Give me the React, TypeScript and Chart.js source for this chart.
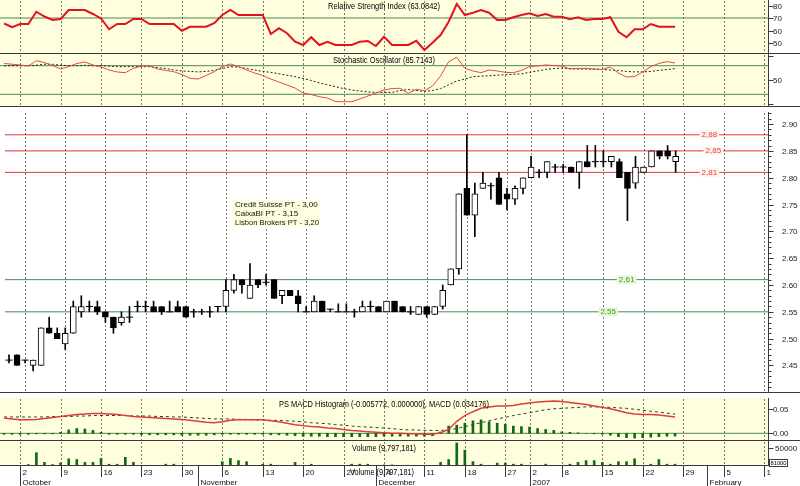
import { useEffect, useRef } from 'react';
import { Chart, registerables } from 'chart.js';

Chart.register(...registerables);

// ---------------- data ----------------
const OPEN = [
  2.46, 2.47, 2.46, 2.45, 2.45, 2.52, 2.51, 2.49, 2.51, 2.55,
  2.56, 2.56, 2.55, 2.54, 2.53, 2.54, 2.56, 2.56, 2.56, 2.56,
  2.55, 2.56, 2.56, 2.55, 2.55, 2.55, 2.56, 2.56, 2.59, 2.61,
  2.575, 2.61, 2.605, 2.61, 2.58, 2.59, 2.58, 2.55, 2.55, 2.57,
  2.555, 2.55, 2.55, 2.55, 2.55, 2.56, 2.56, 2.55, 2.57, 2.56,
  2.55, 2.545, 2.56, 2.545, 2.56, 2.6, 2.63, 2.78, 2.73, 2.78,
  2.785, 2.8, 2.77, 2.76, 2.78, 2.8, 2.81, 2.81, 2.82, 2.82,
  2.82, 2.81, 2.83, 2.83, 2.83, 2.83, 2.83, 2.81, 2.79, 2.81,
  2.82, 2.85, 2.85, 2.83,
];
const HIGH = [
  2.47, 2.47, 2.46, 2.46, 2.52, 2.54, 2.52, 2.52, 2.57, 2.58,
  2.57, 2.57, 2.55, 2.54, 2.55, 2.56, 2.57, 2.57, 2.57, 2.56,
  2.57, 2.57, 2.56, 2.555, 2.555, 2.56, 2.56, 2.61, 2.62, 2.61,
  2.64, 2.61, 2.62, 2.61, 2.59, 2.59, 2.59, 2.56, 2.58, 2.57,
  2.555, 2.565, 2.565, 2.555, 2.57, 2.57, 2.56, 2.57, 2.57, 2.56,
  2.56, 2.56, 2.56, 2.56, 2.6, 2.63, 2.77, 2.88, 2.79, 2.81,
  2.79, 2.81, 2.78, 2.785, 2.8, 2.84, 2.815, 2.83, 2.825, 2.825,
  2.82, 2.83, 2.86, 2.86, 2.85, 2.84, 2.835, 2.81, 2.84, 2.82,
  2.85, 2.85, 2.86, 2.85,
];
const LOW = [
  2.455, 2.45, 2.455, 2.44, 2.45, 2.51, 2.5, 2.48, 2.51, 2.54,
  2.55, 2.545, 2.53, 2.51, 2.525, 2.53, 2.55, 2.55, 2.55, 2.545,
  2.55, 2.55, 2.54, 2.54, 2.545, 2.54, 2.55, 2.55, 2.585, 2.585,
  2.575, 2.595, 2.6, 2.575, 2.565, 2.58, 2.55, 2.55, 2.55, 2.55,
  2.55, 2.55, 2.55, 2.54, 2.55, 2.55, 2.55, 2.55, 2.55, 2.55,
  2.545, 2.545, 2.54, 2.545, 2.555, 2.6, 2.62, 2.73, 2.69, 2.78,
  2.76, 2.75, 2.74, 2.75, 2.77, 2.8, 2.8, 2.8, 2.81, 2.81,
  2.81, 2.78, 2.82, 2.82, 2.82, 2.82, 2.8, 2.72, 2.78, 2.81,
  2.82, 2.835, 2.835, 2.81,
];
const CLOSE = [
  2.46, 2.45, 2.46, 2.46, 2.52, 2.51, 2.5, 2.51, 2.56, 2.56,
  2.56, 2.55, 2.54, 2.52, 2.54, 2.54, 2.56, 2.56, 2.55, 2.55,
  2.55, 2.55, 2.54, 2.55, 2.55, 2.55, 2.56, 2.59, 2.61, 2.6,
  2.6, 2.6, 2.605, 2.575, 2.59, 2.58, 2.565, 2.55, 2.57, 2.55,
  2.555, 2.55, 2.55, 2.55, 2.56, 2.56, 2.55, 2.57, 2.55, 2.55,
  2.55, 2.56, 2.545, 2.56, 2.59, 2.63, 2.77, 2.73, 2.77, 2.79,
  2.785, 2.75, 2.76, 2.78, 2.8, 2.82, 2.81, 2.83, 2.82, 2.82,
  2.81, 2.83, 2.82, 2.83, 2.83, 2.84, 2.8, 2.78, 2.82, 2.82,
  2.85, 2.84, 2.84, 2.84,
];
const VOLUME = [
  2000, 2000, 1500, 4000, 37000, 10000, 4000, 9000, 20000, 18000,
  10000, 10000, 21000, 5000, 5000, 24000, 10000, 2000, 2000, 1000,
  5000, 5000, 1000, 1000, 2000, 1000, 2000, 12000, 21000, 15000,
  12000, 2000, 5000, 5000, 2000, 2000, 10000, 2000, 5000, 2000,
  2000, 2000, 1000, 5000, 5000, 5000, 2000, 3000, 3000, 1000,
  2000, 2000, 2000, 2000, 10000, 18000, 64000, 44000, 12000, 5000,
  2000, 8000, 8000, 5000, 5000, 2000, 2000, 5000, 1000, 2000,
  5000, 10000, 15000, 15000, 10000, 5000, 12000, 12000, 20000, 2000,
  5000, 18000, 5000, 5000,
];
const RSI = [
  65.6, 62.6, 65.2, 65.2, 75, 71.2, 68.4, 69.2, 76.4, 76.4,
  76.4, 73.2, 69.6, 61, 65.2, 65.2, 69.2, 69.2, 65.2, 65.2,
  65.2, 65.2, 59.8, 63, 63, 63, 65.8, 72.4, 76.4, 72.4,
  72.4, 72.4, 72.4, 57.2, 61.8, 57.8, 51, 48.4, 54.6, 48.4,
  51, 48.4, 48.4, 48.4, 51, 51.6, 47.6, 55, 48.4, 48.4,
  48.4, 51.8, 44.4, 50.2, 56.4, 67, 81.2, 72.4, 74.2, 76.4,
  74.2, 68.4, 68.4, 70.6, 72.4, 73.8, 71.6, 73.2, 71, 71,
  69, 70.6, 68.4, 69.2, 69.2, 70.6, 59, 54.6, 61, 61,
  65.2, 63, 63, 63.08,
];
const STOCH_K = [
  84.6, 83, 81.5, 79.4, 90.5, 86.3, 80.4, 73, 78, 84.6,
  87.8, 81.5, 77.3, 71, 66.8, 65.3, 74.5, 79.4, 79.4, 73,
  70, 67.4, 61.5, 53.6, 52, 59.4, 67.4, 78.3, 83.6, 78,
  71, 64.7, 59.4, 52, 45.8, 39.5, 33.2, 22.7, 19.6, 15,
  12.2, 4.9, 4.5, 4.5, 10.1, 16.4, 22.7, 29, 32.2, 32.6,
  22, 30.5, 27.6, 37.4, 58.4, 88.4, 97.6, 74.5, 68.9, 65.3,
  71, 68.9, 66.2, 65.3, 70, 78, 79.4, 81.5, 80.4, 79.4,
  73, 74.1, 74.5, 73, 72, 77.3, 64.7, 56.3, 57.3, 66.8,
  78, 84.6, 88.4, 85.71,
];
const STOCH_D = [
  80, 80, 80, 80, 81, 83, 83, 81, 80, 80,
  81, 80, 80, 79, 78, 78, 78, 78, 78, 76,
  74, 71, 69, 68, 67, 68, 70, 74, 78, 77,
  74, 71, 68, 66, 63, 60, 57, 53, 49, 44,
  40, 36, 32, 29, 27, 25, 24, 24, 24, 28,
  30, 28, 26, 28, 32, 40, 48, 52, 57, 58,
  59, 60, 61, 62, 63, 66, 69, 72, 74, 75,
  74, 73, 73, 73, 72, 71, 70, 68, 67, 67,
  68, 70, 72, 74,
];
const MACD = [
  0.032, 0.03, 0.028, 0.028, 0.029, 0.031, 0.033, 0.035, 0.037, 0.039,
  0.04, 0.041, 0.041, 0.04, 0.039, 0.037, 0.035, 0.034, 0.033, 0.032,
  0.031, 0.03, 0.029, 0.027, 0.025, 0.023, 0.022, 0.024, 0.027, 0.028,
  0.028, 0.028, 0.028, 0.026, 0.024, 0.021, 0.018, 0.016, 0.014, 0.013,
  0.011, 0.01, 0.008, 0.006, 0.005, 0.003, 0.002, 0.001, 0, 0,
  -0.001, -0.001, -0.002, -0.002, 0.001, 0.008, 0.025, 0.037, 0.045, 0.052,
  0.055, 0.057, 0.057, 0.058, 0.061, 0.063, 0.065, 0.066, 0.067, 0.066,
  0.064, 0.062, 0.06, 0.057, 0.054, 0.051, 0.047, 0.043, 0.04, 0.039,
  0.039, 0.038, 0.036, 0.034176,
];
const MACD_SIGNAL = [
  0.034, 0.034, 0.034, 0.034, 0.034, 0.034, 0.035, 0.035, 0.035, 0.036,
  0.036, 0.037, 0.037, 0.037, 0.037, 0.037, 0.036, 0.036, 0.036, 0.035,
  0.035, 0.034, 0.034, 0.033, 0.032, 0.031, 0.03, 0.03, 0.03, 0.029,
  0.029, 0.028, 0.028, 0.027, 0.027, 0.026, 0.025, 0.024, 0.022, 0.021,
  0.02, 0.018, 0.017, 0.015, 0.014, 0.013, 0.012, 0.011, 0.01, 0.008,
  0.007, 0.007, 0.006, 0.006, 0.006, 0.007, 0.01, 0.014, 0.018, 0.022,
  0.026, 0.03, 0.033, 0.037, 0.04, 0.043, 0.046, 0.049, 0.051, 0.052,
  0.053, 0.054, 0.055, 0.055, 0.055, 0.054, 0.053, 0.052, 0.05, 0.048,
  0.046, 0.044, 0.042, 0.04,
];
const MACD_HIST = [
  -0.002, -0.002, -0.002, -0.002, -0.001, -0.001, -0.001, 0.002, 0.007, 0.01,
  0.009, 0.006, 0.002, -0.002, -0.002, -0.002, -0.002, -0.003, -0.003, -0.003,
  -0.003, -0.003, -0.004, -0.004, -0.004, -0.004, -0.003, -0.002, -0.002, -0.002,
  -0.002, -0.002, -0.002, -0.003, -0.003, -0.004, -0.005, -0.006, -0.006, -0.006,
  -0.007, -0.007, -0.007, -0.007, -0.007, -0.007, -0.007, -0.006, -0.006, -0.006,
  -0.006, -0.006, -0.006, -0.005, 0.003, 0.015, 0.017, 0.021, 0.026, 0.028,
  0.024, 0.021, 0.019, 0.015, 0.014, 0.013, 0.01, 0.008, 0.006, 0.003,
  0.002, 0.001, 0, -0.001, -0.002, -0.004, -0.007, -0.009, -0.01, -0.009,
  -0.008, -0.007, -0.006, -0.005772,
];

// x axis (trading-day index)
const WEEK_IDX = [2, 7, 12, 17, 22, 27, 32, 37, 42, 47, 52, 57, 62, 65, 69, 74, 79, 84, 89, 94];
const WEEK_LABELS = ['2', '9', '16', '23', '30', '6', '13', '20', '27', '4', '11', '18', '27', '2', '8', '15', '22', '29', '5', '1'];
const MONTH_IDX = [2, 24, 46, 65, 87];
const MONTH_LABELS = ['October', 'November', 'December', '2007', 'February'];

// level lines
const RED_LEVELS = [2.88, 2.85, 2.81];
const RED_LEVEL_LABELS = ['2,88', '2,85', '2,81'];
const GREEN_LEVELS = [2.61, 2.55];
const GREEN_LEVEL_LABELS = ['2,61', '2,55'];
const RSI_LEVELS = [70];
const STOCH_LEVELS = [80, 20];
const MACD_LEVELS = [0];

// axis ticks
const PRICE_TICKS = [2.45, 2.5, 2.55, 2.6, 2.65, 2.7, 2.75, 2.8, 2.85, 2.9];
const PRICE_TICK_LABELS = ['2.45', '2.50', '2.55', '2.60', '2.65', '2.70', '2.75', '2.80', '2.85', '2.90'];
const RSI_TICKS = [80, 70, 60, 50];
const RSI_TICK_LABELS = ['80', '70', '60', '50'];
const STOCH_TICKS = [100, 50, 0];
const STOCH_TICK_LABELS = ['', '50', ''];
const MACD_TICKS = [0.05, 0];
const MACD_TICK_LABELS = ['0.05', '0.00'];
const VOL_TICKS = [50000];
const VOL_TICK_LABELS = ['50000'];

const NOTES = ['Credit Suisse PT - 3,00', 'CaixaBI PT - 3,15', 'Lisbon Brokers PT - 3,20'];
const TITLE_RSI = 'Relative Strength Index (63.0842)';
const TITLE_STOCH = 'Stochastic Oscillator (85.7143)';
const TITLE_MACD = 'PS MACD Histogram (-0.005772, 0.000000), MACD (0.034176)';
const TITLE_VOL = 'Volume (9,797,181)';
const VOL_BOX_LABEL = '81000';

// ---------------- style ----------------
const X_MIN = -0.5;
const X_MAX = 94.5;
const AXIS_W = 32;
const CREAM = '#ffffe0';
const FONT = '"Liberation Sans", Arial, sans-serif';
const GREEN_LINE = '#4f864f';
const RED_LINE = '#e6333c';
const SEP = '#3a3a3a';
const BAR_GREEN = '#0e6a12';
const GRID = '#777777';

function baseOptions(yMin: number, yMax: number, padBottom = 0): any {
  return {
    responsive: false,
    maintainAspectRatio: false,
    animation: false,
    events: [],
    layout: { padding: { left: 0, right: AXIS_W, top: 0, bottom: padBottom } },
    plugins: { legend: { display: false }, tooltip: { enabled: false } },
    scales: {
      x: { type: 'linear', display: false, min: X_MIN, max: X_MAX, offset: false },
      y: { type: 'linear', display: false, min: yMin, max: yMax },
    },
  };
}

function levelDataset(v: number, color: string): any {
  return {
    type: 'line',
    data: [{ x: X_MIN, y: v }, { x: X_MAX, y: v }],
    borderColor: color,
    borderWidth: 1,
    pointRadius: 0,
    order: 10,
  };
}

function series(values: number[]) {
  return values.map((v, i) => ({ x: i, y: v }));
}

// dotted weekly grid lines, placed with the chart's own x scale
function drawGrid(chart: any) {
  const ctx = chart.ctx;
  const a = chart.chartArea;
  const xs = chart.scales.x;
  ctx.save();
  ctx.fillStyle = GRID;
  for (const idx of WEEK_IDX) {
    const px = Math.round(xs.getPixelForValue(idx));
    for (let y = Math.ceil(a.top) + 1; y < a.bottom - 1; y += 4) {
      ctx.fillRect(px, y, 1, 2);
    }
  }
  ctx.restore();
}

function panelPlugin(cfg: any) {
  return {
    id: 'panel',
    beforeDraw(chart: any) {
      const ctx = chart.ctx;
      const a = chart.chartArea;
      if (cfg.bg) {
        ctx.save();
        ctx.fillStyle = cfg.bg;
        ctx.fillRect(a.left, a.top, a.right - a.left, a.bottom - a.top);
        ctx.restore();
      }
    },
    beforeDatasetsDraw(chart: any) {
      drawGrid(chart);
    },
    afterDraw(chart: any) {
      const { ctx, chartArea: a, scales, width } = chart;
      const ys = scales.y;
      ctx.save();
      ctx.setLineDash([]);
      if (cfg.extra) cfg.extra(chart);
      if (cfg.title) {
        ctx.font = `9px ${FONT}`;
        ctx.fillStyle = '#000';
        ctx.textAlign = 'center';
        ctx.textBaseline = 'middle';
        ctx.fillText(cfg.title, (a.left + a.right) / 2, cfg.titleY, cfg.titleW);
      }
      const ax = Math.round(a.right) + 0.5;
      ctx.strokeStyle = SEP;
      ctx.lineWidth = 1;
      ctx.beginPath();
      ctx.moveTo(ax, a.top);
      ctx.lineTo(ax, a.bottom);
      ctx.stroke();
      (cfg.minor || []).forEach((v: number) => {
        const py = Math.round(ys.getPixelForValue(v)) + 0.5;
        if (py < a.top || py > a.bottom) return;
        ctx.beginPath();
        ctx.moveTo(ax, py);
        ctx.lineTo(ax + 3, py);
        ctx.stroke();
      });
      ctx.font = `8px ${FONT}`;
      ctx.fillStyle = '#222';
      ctx.textAlign = 'left';
      ctx.textBaseline = 'middle';
      cfg.ticks.forEach((v: number, k: number) => {
        const py = Math.round(ys.getPixelForValue(v)) + 0.5;
        ctx.beginPath();
        ctx.moveTo(ax, py);
        ctx.lineTo(ax + 5, py);
        ctx.stroke();
        const lab = cfg.tickLabels[k];
        if (lab) ctx.fillText(lab, cfg.labelX, py);
      });
      if (cfg.bottomLine !== false) {
        const by = Math.round(a.bottom) - 0.5;
        ctx.beginPath();
        ctx.moveTo(0, by);
        ctx.lineTo(cfg.bottomLineEnd ?? width, by);
        ctx.stroke();
      }
      ctx.restore();
    },
  };
}

function drawLevelLabel(ctx: any, text: string, cx: number, cy: number, color: string, bg: string) {
  ctx.font = `8px ${FONT}`;
  const w = ctx.measureText(text).width;
  ctx.fillStyle = bg;
  ctx.fillRect(cx - w / 2 - 2, cy - 4.5, w + 4, 9);
  ctx.fillStyle = color;
  ctx.textAlign = 'center';
  ctx.textBaseline = 'middle';
  ctx.fillText(text, cx, cy);
}

function priceExtra(chart: any) {
  const { ctx, scales } = chart;
  const xs = scales.x;
  const ys = scales.y;
  const redPos = [87.2, 87.7, 87.2];
  RED_LEVELS.forEach((v, k) => {
    drawLevelLabel(ctx, RED_LEVEL_LABELS[k], xs.getPixelForValue(redPos[k]), ys.getPixelForValue(v), '#e2452a', '#fff3f0');
  });
  const greenPos = [76.9, 74.6];
  GREEN_LEVELS.forEach((v, k) => {
    drawLevelLabel(ctx, GREEN_LEVEL_LABELS[k], xs.getPixelForValue(greenPos[k]), ys.getPixelForValue(v), '#3c9a1c', '#e8f7da');
  });
  // notes box
  ctx.fillStyle = '#ffffe0';
  ctx.fillRect(232, 93, 88, 27);
  ctx.fillStyle = '#111';
  ctx.font = `8px ${FONT}`;
  ctx.textAlign = 'left';
  ctx.textBaseline = 'middle';
  NOTES.forEach((t, k) => ctx.fillText(t, 235, 98 + k * 8.7, 84));
}

function axisRowExtra(chart: any) {
  const { ctx, chartArea: a, scales } = chart;
  const base = Math.round(a.bottom);
  ctx.strokeStyle = SEP;
  ctx.lineWidth = 1;
  ctx.fillStyle = '#111';
  ctx.font = `8px ${FONT}`;
  ctx.textAlign = 'left';
  ctx.textBaseline = 'middle';
  WEEK_IDX.forEach((idx, k) => {
    const px = Math.round(scales.x.getPixelForValue(idx)) + 0.5;
    ctx.beginPath();
    ctx.moveTo(px, base);
    ctx.lineTo(px, base + 11);
    ctx.stroke();
    ctx.fillText(WEEK_LABELS[k], px + 2, base + 6.5);
  });
  MONTH_IDX.forEach((idx, k) => {
    const px = Math.round(scales.x.getPixelForValue(idx)) + 0.5;
    ctx.beginPath();
    ctx.moveTo(px, base);
    ctx.lineTo(px, base + 20);
    ctx.stroke();
    ctx.fillText(MONTH_LABELS[k], px + 2, base + 16.5);
  });
  ctx.textAlign = 'center';
  ctx.font = `9px ${FONT}`;
  ctx.fillStyle = '#000';
  ctx.fillText(TITLE_VOL, 382, base + 6.5, 64);
  // boxed value at right
  ctx.fillStyle = '#fff';
  ctx.fillRect(769.5, base - 6.5, 18, 7);
  ctx.strokeRect(769.5, base - 6.5, 18, 7);
  ctx.fillStyle = '#000';
  ctx.font = `6px ${FONT}`;
  ctx.fillText(VOL_BOX_LABEL, 778.5, base - 3, 16);
}

function rsiConfig(): any {
  return {
    type: 'line',
    data: {
      datasets: [
        ...RSI_LEVELS.map((v) => levelDataset(v, GREEN_LINE)),
        { data: series(RSI), borderColor: '#e3121b', borderWidth: 2, pointRadius: 0, tension: 0, order: 1 },
      ],
    },
    options: baseOptions(41.2, 84.4),
    plugins: [panelPlugin({ bg: CREAM, title: TITLE_RSI, titleY: 7, titleW: 112, ticks: RSI_TICKS, tickLabels: RSI_TICK_LABELS, labelX: 773 })],
  };
}

function stochConfig(): any {
  return {
    type: 'line',
    data: {
      datasets: [
        ...STOCH_LEVELS.map((v) => levelDataset(v, GREEN_LINE)),
        { data: series(STOCH_D), borderColor: '#222', borderWidth: 1, borderDash: [2, 2], pointRadius: 0, order: 2 },
        { data: series(STOCH_K), borderColor: '#e64848', borderWidth: 1, pointRadius: 0, order: 1 },
      ],
    },
    options: baseOptions(-6.6, 104.5),
    plugins: [panelPlugin({ bg: CREAM, title: TITLE_STOCH, titleY: 7, titleW: 102, ticks: STOCH_TICKS, tickLabels: STOCH_TICK_LABELS, labelX: 773 })],
  };
}

function priceConfig(): any {
  const idx = OPEN.map((_, i) => i);
  const bodies = idx.filter((i) => OPEN[i] !== CLOSE[i]).map((i) => ({ x: i, y: [OPEN[i], CLOSE[i]] }));
  const dojis = idx.filter((i) => OPEN[i] === CLOSE[i]).map((i) => ({ x: i, y: OPEN[i] }));
  const wicks = idx.map((i) => ({ x: i, y: [LOW[i], HIGH[i]] }));
  const minor: number[] = [];
  for (let k = 240; k <= 292; k++) minor.push(k / 100);
  return {
    type: 'bar',
    data: {
      datasets: [
        ...RED_LEVELS.map((v) => levelDataset(v, RED_LINE)),
        ...GREEN_LEVELS.map((v) => levelDataset(v, GREEN_LINE)),
        { type: 'bar', data: wicks, backgroundColor: '#000', borderWidth: 0, barThickness: 1, grouped: false, order: 3 },
        {
          type: 'bar',
          data: bodies,
          backgroundColor: (c: any) => (c.raw && c.raw.y[1] > c.raw.y[0] ? '#ffffff' : '#000000'),
          borderColor: '#000',
          borderWidth: 1,
          borderSkipped: false,
          barThickness: 6,
          grouped: false,
          order: 2,
        },
        {
          type: 'line',
          data: dojis,
          showLine: false,
          pointStyle: 'line',
          pointRadius: 3.5,
          pointBorderColor: '#000',
          pointBorderWidth: 1,
          order: 1,
        },
      ],
    },
    options: baseOptions(2.3987, 2.9225),
    plugins: [panelPlugin({ bg: '#ffffff', ticks: PRICE_TICKS, tickLabels: PRICE_TICK_LABELS, minor, labelX: 782, extra: priceExtra })],
  };
}

function macdConfig(): any {
  return {
    type: 'bar',
    data: {
      datasets: [
        ...MACD_LEVELS.map((v) => levelDataset(v, GREEN_LINE)),
        { type: 'bar', data: series(MACD_HIST), backgroundColor: BAR_GREEN, barThickness: 2, grouped: false, order: 5 },
        { type: 'line', data: series(MACD_SIGNAL), borderColor: '#2c3f2c', borderWidth: 1, borderDash: [3, 3], pointRadius: 0, order: 2 },
        { type: 'line', data: series(MACD), borderColor: '#e23a3a', borderWidth: 1.5, pointRadius: 0, order: 1 },
      ],
    },
    options: baseOptions(-0.016, 0.0735),
    plugins: [panelPlugin({ bg: CREAM, title: TITLE_MACD, titleY: 6.5, titleW: 210, ticks: MACD_TICKS, tickLabels: MACD_TICK_LABELS, labelX: 773 })],
  };
}

function volumeConfig(): any {
  return {
    type: 'bar',
    data: {
      datasets: [{ type: 'bar', data: series(VOLUME), backgroundColor: BAR_GREEN, barThickness: 2, grouped: false }],
    },
    options: baseOptions(0, 69444, 20),
    plugins: [
      panelPlugin({
        bg: CREAM,
        title: TITLE_VOL,
        titleY: 7.3,
        titleW: 64,
        ticks: VOL_TICKS,
        tickLabels: VOL_TICK_LABELS,
        labelX: 775,
        bottomLineEnd: 769,
        extra: axisRowExtra,
      }),
    ],
  };
}

export default function App() {
  const rsiRef = useRef<HTMLCanvasElement>(null);
  const stochRef = useRef<HTMLCanvasElement>(null);
  const priceRef = useRef<HTMLCanvasElement>(null);
  const macdRef = useRef<HTMLCanvasElement>(null);
  const volRef = useRef<HTMLCanvasElement>(null);

  useEffect(() => {
    const charts = [
      new Chart(rsiRef.current as HTMLCanvasElement, rsiConfig()),
      new Chart(stochRef.current as HTMLCanvasElement, stochConfig()),
      new Chart(priceRef.current as HTMLCanvasElement, priceConfig()),
      new Chart(macdRef.current as HTMLCanvasElement, macdConfig()),
      new Chart(volRef.current as HTMLCanvasElement, volumeConfig()),
    ];
    return () => charts.forEach((c) => c.destroy());
  }, []);

  const abs = (top: number): any => ({ position: 'absolute', left: 0, top });
  return (
    <div style={{ position: 'absolute', left: 0, top: 0, width: 800, height: 486, background: '#fff', overflow: 'hidden' }}>
      <canvas ref={rsiRef} width={800} height={54} style={abs(0)} />
      <canvas ref={stochRef} width={800} height={53} style={abs(54)} />
      <canvas ref={priceRef} width={800} height={291} style={abs(107)} />
      <canvas ref={macdRef} width={800} height={43} style={abs(398)} />
      <canvas ref={volRef} width={800} height={45} style={abs(441)} />
    </div>
  );
}
